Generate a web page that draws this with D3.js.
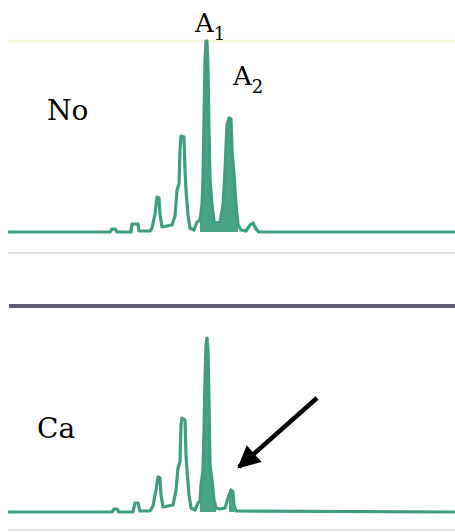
<!DOCTYPE html>
<html>
<head>
<meta charset="utf-8">
<script src="https://cdn.jsdelivr.net/npm/d3@7"></script>
<style>
  body { margin: 0; background: #fff; }
  svg { display: block; }
</style>
</head>
<body>
<div id="chart"></div>
<script>
// retention time (min) / detector signal (% of full scale)
var panels = ["No", "Ca"];

var noTime = [0, 10.2, 10.4, 10.7, 10.9, 12.3, 12.4, 13.0, 13.1, 14.2, 14.4, 14.7, 14.9, 15.1, 15.2, 15.4,
    15.9, 16.4, 16.7, 16.9, 17.1, 17.2, 17.3, 17.6, 17.7, 17.8, 18.0, 18.2, 18.6, 18.9, 19.2,
    19.4, 19.5, 19.6, 19.7, 19.8, 19.9, 20.0, 20.1, 20.2, 20.4, 20.6, 20.9, 21.2,
    21.5, 21.7, 21.9, 22.1, 22.3, 22.4, 22.6, 22.8, 23.0, 23.3, 23.8, 24.2, 24.5, 24.8, 25.1, 44.7];
var noSignal = [0, 0, 1.5, 1.5, 0, 0, 4, 4, 0.5, 0.5, 2, 9, 17.5, 17, 9, 2.5,
    3, 3.5, 8, 21, 24, 41, 48, 47.5, 31, 21, 8.5, 2, 1, 5, 6,
    13.5, 26, 56, 86, 95.5, 95.5, 81, 51, 26, 13.5, 5, 4.5, 5,
    13.5, 31, 53.5, 57, 56.5, 41, 28.5, 13.5, 3.5, 1, 0.5, 3.5, 4.5, 1.5, 0, 0];

var caTime = [0, 10.4, 10.6, 10.9, 11.1, 12.5, 12.7, 13.0, 13.2, 14.2, 14.5, 14.8, 15.0, 15.2, 15.3, 15.5,
    16.0, 16.5, 16.8, 17.0, 17.2, 17.3, 17.4, 17.7, 17.8, 17.9, 18.1, 18.3, 18.7, 19.0, 19.2,
    19.3, 19.5, 19.6, 19.7, 19.8, 19.9, 20.0, 20.1, 20.2, 20.4, 20.6, 20.8, 21.2, 21.7,
    22.1, 22.3, 22.5, 22.6, 22.8, 44.7];
var caSignal = [0, 0, 1.5, 1.5, 0, 0, 4.5, 4.5, 0.5, 0.5, 3, 11, 17.5, 17, 8.5, 2.5,
    3, 3.5, 11, 22, 25, 43.5, 47, 46, 28.5, 21, 8.5, 2, 1, 4.5, 5.5,
    13.5, 21, 41, 66, 83.5, 87, 81, 56, 23.5, 16, 6, 2, 1.5, 2,
    8.5, 11, 10, 3.5, 0.5, 0];

// shaded peaks [start, end] in min
var noFilled = [[19.2, 21.2], [21.2, 23.0]];
var caFilled = [[19.2, 20.8], [22.0, 22.7]];

var peakNames = ["A1", "A2"];
var peakTimes = [19.85, 22.2];

// arrow on Ca trace: from [t, signal] to [t, signal]
var arrowFrom = [30.9, 57];
var arrowTo = [23.1, 22.5];

var width = 455, height = 532;
var green = "#3f9e81";
var serif = "'DejaVu Serif', serif";

var svg = d3.select("#chart").append("svg")
    .attr("width", width)
    .attr("height", height);

var x = d3.scaleLinear().domain([0, 44.7]).range([8, 455]);
var yNo = d3.scaleLinear().domain([0, 100]).range([232, 32]);
var yCa = d3.scaleLinear().domain([0, 100]).range([512, 312]);

svg.append("defs").append("marker")
    .attr("id", "head")
    .attr("viewBox", "0 0 10 10")
    .attr("refX", 9).attr("refY", 5)
    .attr("markerWidth", 6).attr("markerHeight", 5)
    .attr("markerUnits", "strokeWidth")
    .attr("orient", "auto")
    .append("path")
    .attr("d", "M0,0 L10,5 L0,10 Z")
    .attr("fill", "#000");

// faint scanned rules
svg.append("line").attr("x1", 8).attr("x2", 455).attr("y1", 41).attr("y2", 41)
    .style("stroke", "#f7f7e0").style("stroke-width", 3);
svg.append("line").attr("x1", 8).attr("x2", 455).attr("y1", 253).attr("y2", 253)
    .style("stroke", "#e2e2e6").style("stroke-width", 2);
svg.append("line").attr("x1", 9).attr("x2", 455).attr("y1", 306).attr("y2", 306)
    .style("stroke", "#5c5c72").style("stroke-width", 4);
svg.append("line").attr("x1", 8).attr("x2", 455).attr("y1", 530).attr("y2", 530)
    .style("stroke", "#e6e6ea").style("stroke-width", 2);

function drawTrace(times, signals, filled, y) {
    var pts = times.map(function(t, i) { return [t, signals[i]]; });

    var area = d3.area()
        .x(function(d) { return x(d[0]); })
        .y0(y(0))
        .y1(function(d) { return y(d[1]); });

    filled.forEach(function(r) {
        var seg = pts.filter(function(d) { return d[0] >= r[0] && d[0] <= r[1]; });
        svg.append("path")
            .datum(seg)
            .attr("d", area)
            .style("fill", green)
            .style("opacity", 0.95);
    });

    var line = d3.line()
        .x(function(d) { return x(d[0]); })
        .y(function(d) { return y(d[1]); });

    svg.append("path")
        .datum(pts)
        .attr("d", line)
        .style("fill", "none")
        .style("stroke", green)
        .style("stroke-width", 3.2)
        .style("stroke-linejoin", "round");
}

drawTrace(noTime, noSignal, noFilled, yNo);
drawTrace(caTime, caSignal, caFilled, yCa);

// panel labels
svg.append("text").attr("x", 47).attr("y", 120)
    .attr("font-family", serif).attr("font-size", 28).text(panels[0]);
svg.append("text").attr("x", 37).attr("y", 438)
    .attr("font-family", serif).attr("font-size", 28).text(panels[1]);

// peak labels with subscripts
var labelPos = [[-11.5, 32], [3, 85]];
peakNames.forEach(function(n, i) {
    var t = svg.append("text")
        .attr("x", x(peakTimes[i]) + labelPos[i][0])
        .attr("y", labelPos[i][1])
        .attr("font-family", serif)
        .attr("font-size", 26);
    t.append("tspan").text(n[0]);
    t.append("tspan").attr("dy", 8).attr("font-size", 18).text(n[1]);
});

// arrow
svg.append("line")
    .attr("x1", x(arrowFrom[0])).attr("y1", yCa(arrowFrom[1]))
    .attr("x2", x(arrowTo[0])).attr("y2", yCa(arrowTo[1]))
    .style("stroke", "#000")
    .style("stroke-width", 4.5)
    .attr("marker-end", "url(#head)");
</script>
</body>
</html>
